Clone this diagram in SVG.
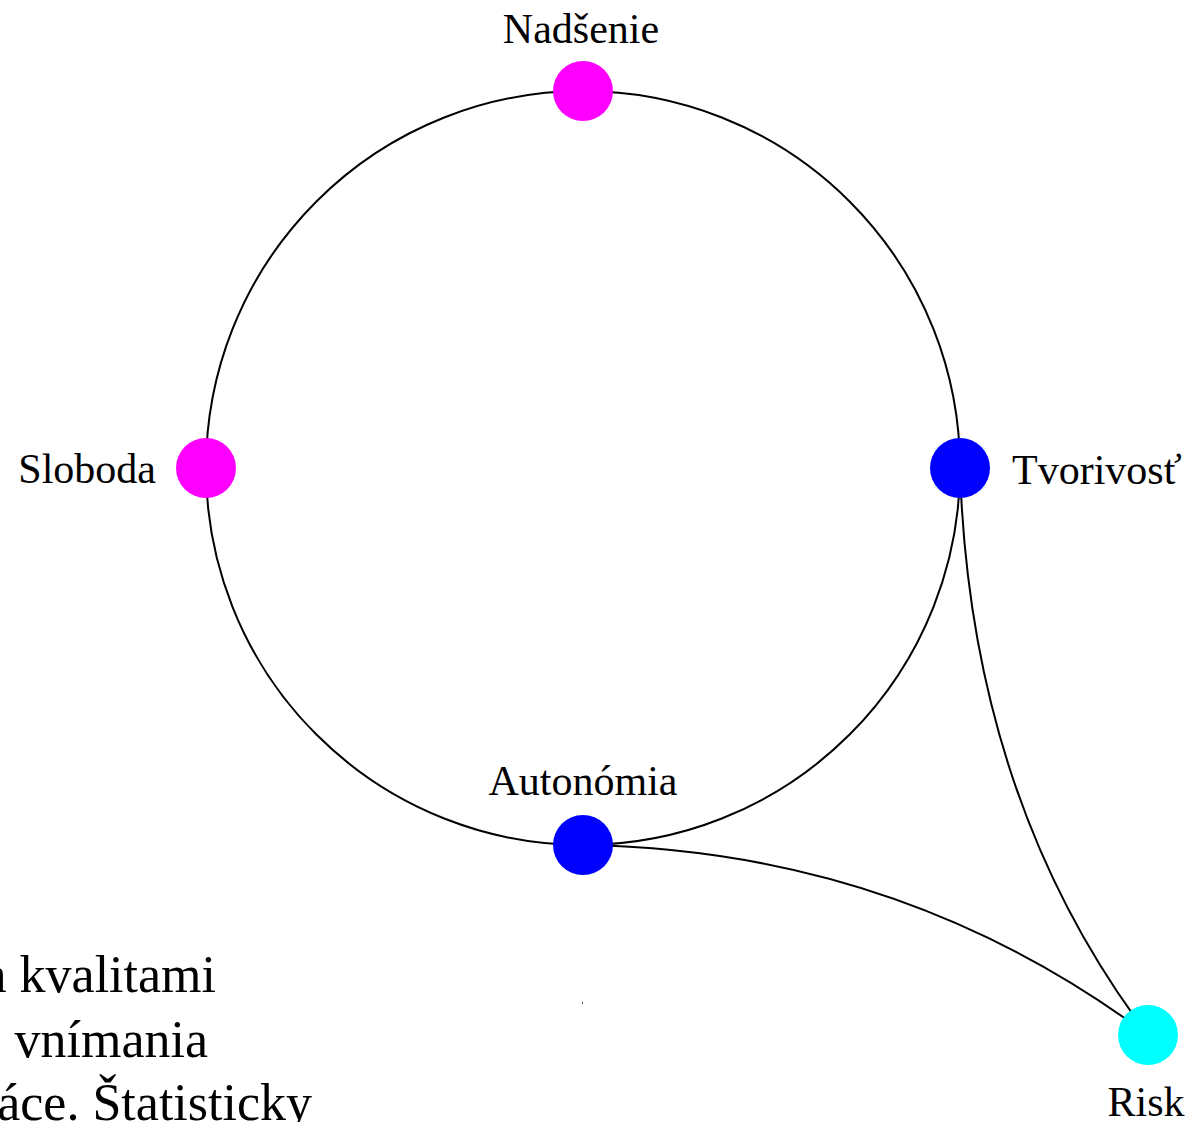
<svg xmlns="http://www.w3.org/2000/svg" width="1192" height="1122" viewBox="0 0 1192 1122">
<style>
.lbl{font-family:"Liberation Serif","Times New Roman",serif;font-size:42px;fill:#000}
.body{font-family:"Liberation Serif","Times New Roman",serif;font-size:52px;fill:#000}
.edge{fill:none;stroke:#000;stroke-width:2}
</style>
<rect width="1192" height="1122" fill="#fff"/>
<g id="connectors">
<circle class="edge" cx="583" cy="468" r="377"/>
<path class="edge" d="M583,845 Q900,850 1148,1035"/>
<path class="edge" d="M960,468 Q970,800 1148,1035"/>
</g>
<g id="node-nadsenie">
<circle cx="583" cy="91" r="30" fill="#ff00ff"/>
<text class="lbl" x="581" y="43" text-anchor="middle">Nadšenie</text>
</g>
<g id="node-sloboda">
<circle cx="206" cy="468" r="30" fill="#ff00ff"/>
<text class="lbl" x="156" y="483" text-anchor="end">Sloboda</text>
</g>
<g id="node-tvorivost">
<circle cx="960" cy="468" r="30" fill="#0000ff"/>
<text class="lbl" x="1012" y="484">Tvorivosť</text>
</g>
<g id="node-autonomia">
<circle cx="583" cy="845" r="30" fill="#0000ff"/>
<text class="lbl" x="583" y="795" text-anchor="middle">Autonómia</text>
</g>
<g id="node-risk">
<circle cx="1148" cy="1035" r="30" fill="#00ffff"/>
<text class="lbl" x="1146" y="1116" text-anchor="middle">Risk</text>
</g>
<g id="background-text">
<text class="body" x="216" y="992" text-anchor="end">a kvalitami</text>
<text class="body" x="208" y="1057" text-anchor="end">vnímania</text>
<text class="body" x="312" y="1120" text-anchor="end">áce. Štatisticky</text>
<rect x="582" y="1002" width="1" height="2" fill="#555"/>
</g>
</svg>
